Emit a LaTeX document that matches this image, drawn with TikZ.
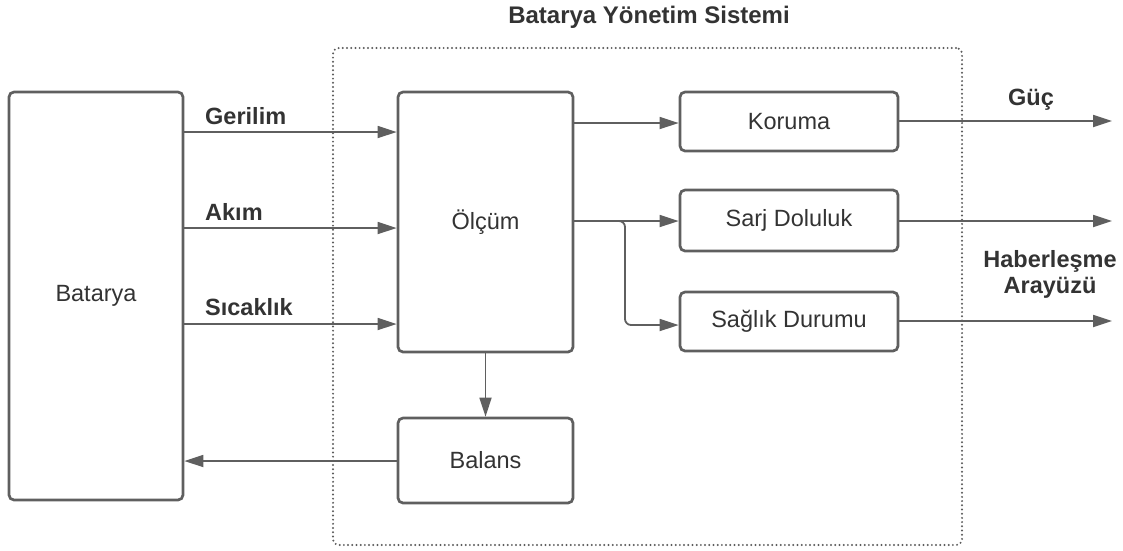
\documentclass[tikz,border=0pt]{standalone}
\usepackage{fontspec}
\setmainfont{Liberation Sans}
\usetikzlibrary{arrows.meta}
\definecolor{ln}{HTML}{5F5F5F}
\definecolor{dotc}{HTML}{5C5C5C}
\definecolor{tx}{HTML}{333333}
\begin{document}
\begin{tikzpicture}[x=1pt,y=-1pt,
  box/.style={draw=ln, line width=2.7pt, rounded corners=5pt, fill=white,
    inner sep=0pt, text=tx, font=\fontsize{23.5}{27}\selectfont},
  arr/.style={draw=ln, line width=1.8pt, -{Triangle[length=19pt,width=12pt]}},
  lbl/.style={text=tx, font=\bfseries\fontsize{23.5}{26}\selectfont, inner sep=0pt},
  frame/.style={draw=dotc, line width=2.2pt, dash pattern=on 0pt off 4.2pt,
    line cap=round, rounded corners=6pt, inner sep=0pt}]

\useasboundingbox (0,0) rectangle (1123,550);

% system boundary and its title
\node[frame, minimum width=629pt, minimum height=497pt] (sys) at (647.5,296.5) {};
\node[lbl, font=\bfseries\fontsize{24}{28}\selectfont] (title) at (649,17) {Batarya Yönetim Sistemi};

% blocks
\node[box, minimum width=174pt, minimum height=408pt] (bat) at (96,296) {Batarya};
\node[box, minimum width=175pt, minimum height=260pt] (olc) at (485.5,222) {Ölçüm};
\node[box, minimum width=175pt, minimum height=85pt] (bal) at (485.5,460.5) {Balans};
\node[box, minimum width=218pt, minimum height=59pt] (kor) at (789,121.5) {Koruma};
\node[box, minimum width=218pt, minimum height=61pt] (sarj) at (789,220.5) {Sarj Doluluk};
\node[box, minimum width=218pt, minimum height=59pt] (sag) at (789,321.5) {Sağlık Durumu};

% heights of the horizontal connectors
\coordinate (yG) at (0,132);
\coordinate (yA) at (0,228);
\coordinate (yS) at (0,324);
\coordinate (yK) at (0,123);
\coordinate (yD) at (0,221);
\coordinate (yH) at (0,325);
\coordinate (yB) at (0,461);
\coordinate (br) at (625,221);

% output ends
\coordinate (o1) at (1112,121);
\coordinate (o2) at (1112,221);
\coordinate (o3) at (1112,321);

% measurements into Ölçüm
\draw[arr] (bat.east |- yG) -- (olc.west |- yG);
\draw[arr] (bat.east |- yA) -- (olc.west |- yA);
\draw[arr] (bat.east |- yS) -- (olc.west |- yS);
\node[lbl, anchor=base west] (lg) at (205,124) {Gerilim};
\node[lbl, anchor=base west] (la) at (205,220) {Akım};
\node[lbl, anchor=base west] (ls) at (205,315) {Sıcaklık};

% Ölçüm to the estimators
\draw[arr] (olc.east |- yK) -- (kor.west |- yK);
\draw[arr] (olc.east |- yD) -- (sarj.west |- yD);
\draw[arr, rounded corners=6pt] (olc.east |- yD) -| (br |- yH) -- (sag.west |- yH);

% balancing loop
\draw[arr] (olc.south -| bal.north) -- (bal.north);
\draw[arr] (bal.west |- yB) -- (bat.east |- yB);

% outputs
\draw[arr] (kor.east |- o1) -- (o1);
\draw[arr] (sarj.east |- o2) -- (o2);
\draw[arr] (sag.east |- o3) -- (o3);
\node[lbl, anchor=base] (lguc) at (1031,105) {Güç};
\node[lbl, anchor=north, align=center] (lhab) at (1050,250) {Haberleşme\\Arayüzü};

\end{tikzpicture}
\end{document}
